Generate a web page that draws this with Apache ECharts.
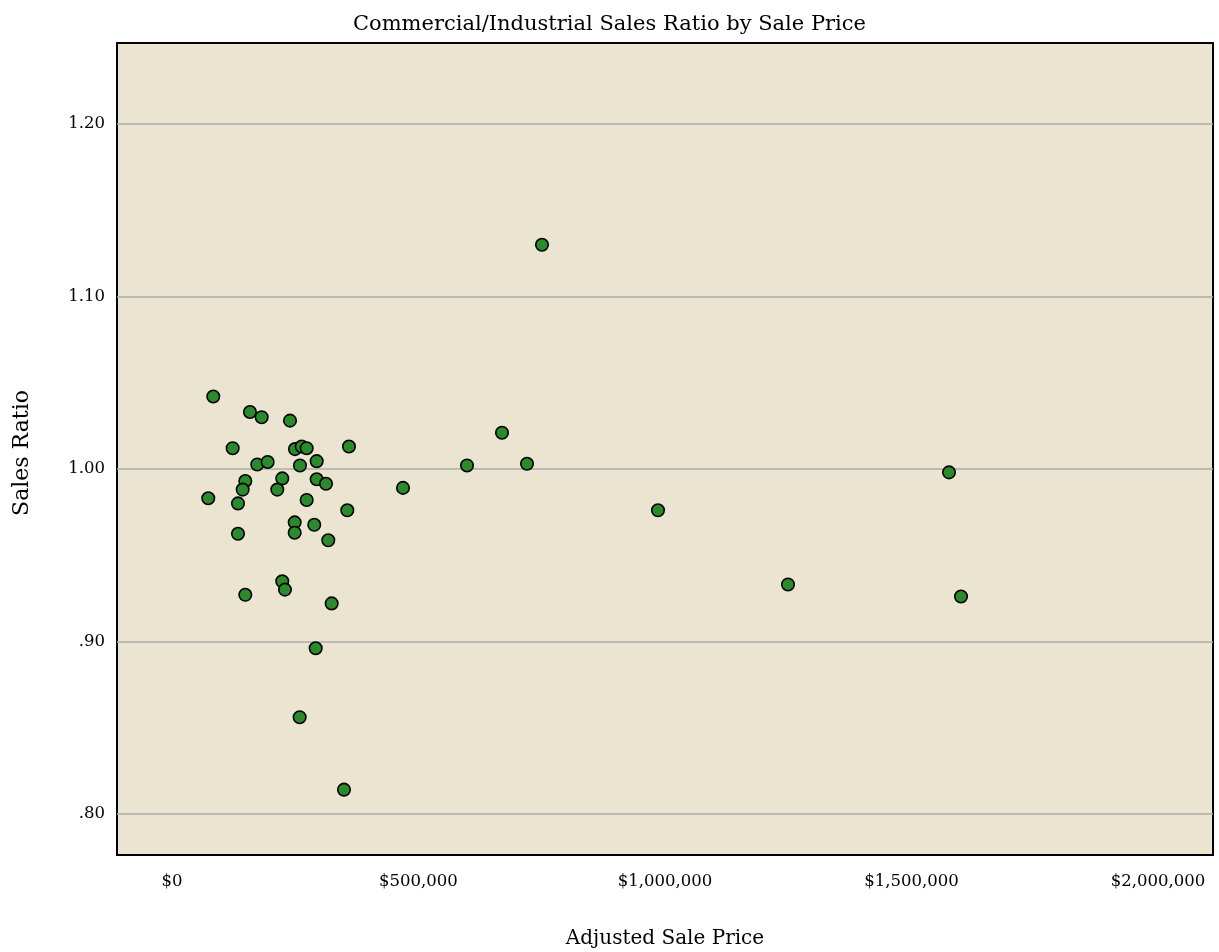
<!DOCTYPE html>
<html>
<head>
<meta charset="utf-8">
<title>Commercial/Industrial Sales Ratio by Sale Price</title>
<script src="https://cdn.jsdelivr.net/npm/echarts@6/dist/echarts.min.js"></script>
<style>
  html, body { margin: 0; padding: 0; background: #fff; }
  #chart { width: 1219px; height: 952px; }
</style>
</head>
<body>
<div id="chart"></div>
<script>
// adjusted sale price ($) and sales ratio of each sale
var salePrice = [
  83800, 158200, 181900, 239400, 123100, 249500, 263100, 273200, 359000,
  173000, 194100, 259600, 293500, 148700, 143400, 223700, 213600, 293500,
  312400, 73600, 133900, 273200, 355600, 248900, 248900, 288600, 133900,
  317000, 223700, 229200, 148700, 323900, 291500, 259000, 348900,
  750500, 669400, 598400, 720100, 468600, 985800, 1249500, 1576100, 1600400
];
var salesRatio = [
  1.042, 1.033, 1.030, 1.028, 1.012, 1.0115, 1.013, 1.012, 1.013,
  1.0026, 1.004, 1.002, 1.0045, 0.993, 0.988, 0.9945, 0.988, 0.994,
  0.9914, 0.983, 0.980, 0.982, 0.976, 0.969, 0.963, 0.9676, 0.9624,
  0.9586, 0.9348, 0.930, 0.927, 0.922, 0.896, 0.856, 0.814,
  1.130, 1.021, 1.002, 1.003, 0.989, 0.976, 0.933, 0.998, 0.926
];

var xTicks = [0, 500000, 1000000, 1500000, 2000000];
var yTicks = [0.8, 0.9, 1.0, 1.1, 1.2];

var points = [];
for (var i = 0; i < salePrice.length; i++) {
  points.push([salePrice[i], salesRatio[i]]);
}

var serif = 'DejaVu Serif';
var myChart = echarts.init(document.getElementById('chart'));
var option = {
  backgroundColor: '#ffffff',
  animation: false,
  title: {
    text: 'Commercial/Industrial Sales Ratio by Sale Price',
    left: 'center',
    top: 9,
    textStyle: { fontFamily: serif, fontSize: 21, fontWeight: 'normal', color: '#000' }
  },
  grid: {
    left: 117, right: 6, top: 43, bottom: 97,
    outerBoundsMode: 'none',
    show: true,
    backgroundColor: '#EBE4D0',
    borderColor: '#000',
    borderWidth: 2
  },
  xAxis: {
    type: 'value',
    min: -111500,
    max: 2111500,
    name: 'Adjusted Sale Price',
    nameLocation: 'middle',
    nameGap: 74,
    nameTextStyle: { fontFamily: serif, fontSize: 20, color: '#000' },
    axisLine: { show: false },
    axisTick: { show: false, customValues: xTicks },
    splitLine: { show: false },
    axisLabel: {
      customValues: xTicks,
      margin: 18,
      fontFamily: serif, fontSize: 16.5, color: '#000',
      formatter: function (v) { return '$' + Math.round(v).toLocaleString('en-US'); }
    }
  },
  yAxis: {
    type: 'value',
    min: 0.7761,
    max: 1.247,
    name: 'Sales Ratio',
    nameLocation: 'middle',
    nameGap: 84,
    nameTextStyle: { fontFamily: serif, fontSize: 22, color: '#000', padding: [0, 8, 0, 0] },
    axisLine: { show: false },
    axisTick: { show: false, customValues: yTicks },
    splitLine: { show: true, lineStyle: { color: '#ABABAB', width: 1.5 } },
    axisLabel: {
      customValues: yTicks,
      margin: 12,
      fontFamily: serif, fontSize: 16.5, color: '#000',
      formatter: function (v) {
        var s = v.toFixed(2);
        return v < 1 ? s.replace(/^0/, '') : s;
      }
    }
  },
  series: [
    {
      type: 'scatter',
      data: points,
      symbol: 'circle',
      symbolSize: 12.5,
      itemStyle: { color: '#2B8A2B', borderColor: '#000', borderWidth: 1.6, opacity: 1 }
    }
  ]
};
myChart.setOption(option);
</script>
</body>
</html>
